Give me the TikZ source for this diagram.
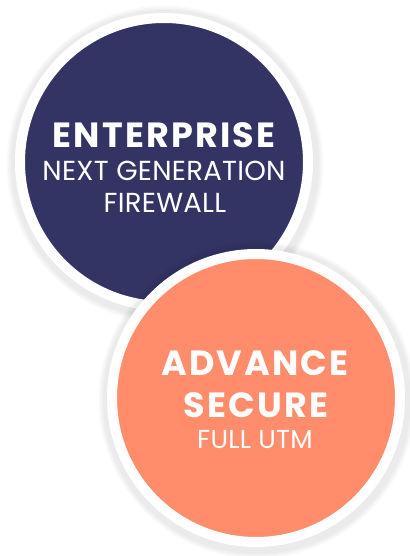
\documentclass[tikz,border=0pt]{standalone}
\usepackage{fontspec}
\setmainfont{Poppins}
\newfontfamily\titlefont[LetterSpace=6]{Poppins}
\newfontfamily\subfont[LetterSpace=1]{Poppins}
\definecolor{navy}{HTML}{343464}
\definecolor{salmon}{HTML}{FF8C6B}
\tikzset{
  disc/.style={circle, minimum size=288pt, inner sep=0pt, line width=10pt, draw=white},
  shadowring/.style={fill=black, opacity=0.02},
  bigtxt/.style={text=white, font=\titlefont\bfseries\fontsize{35}{37}\selectfont},
  smalltxt/.style={text=white, font=\subfont\fontsize{27.5}{29}\selectfont},
  utmtxt/.style={text=white, font=\subfont\fontsize{26}{28}\selectfont},
}
\begin{document}
\begin{tikzpicture}[x=1pt,y=-1pt]
\useasboundingbox (0,0) rectangle (409,556);
\fill[white] (0,0) rectangle (409,556);
% shadow navy
\foreach \r in {154,155.5,157,158.5}{\fill[shadowring] (165,164) circle (\r);}
\node[disc, fill=navy] (ent) at (164,162) {};
% shadow salmon
\foreach \r in {154,155.5,157,158.5}{\fill[shadowring] (257,400) circle (\r);}
\node[disc, fill=salmon] (adv) at (256,398) {};
% text
\node[bigtxt, anchor=base] (t1) at (164,148) {ENTERPRISE};
\node[smalltxt, anchor=base] (t2) at (164,180) {NEXT GENERATION};
\node[smalltxt, anchor=base] (t3) at (165,212) {FIREWALL};
\node[bigtxt, anchor=base] (a1) at (255,375) {ADVANCE};
\node[bigtxt, anchor=base] (a2) at (256,417) {SECURE};
\node[utmtxt, anchor=base] (a3) at (255,448) {FULL UTM};
\end{tikzpicture}
\end{document}
